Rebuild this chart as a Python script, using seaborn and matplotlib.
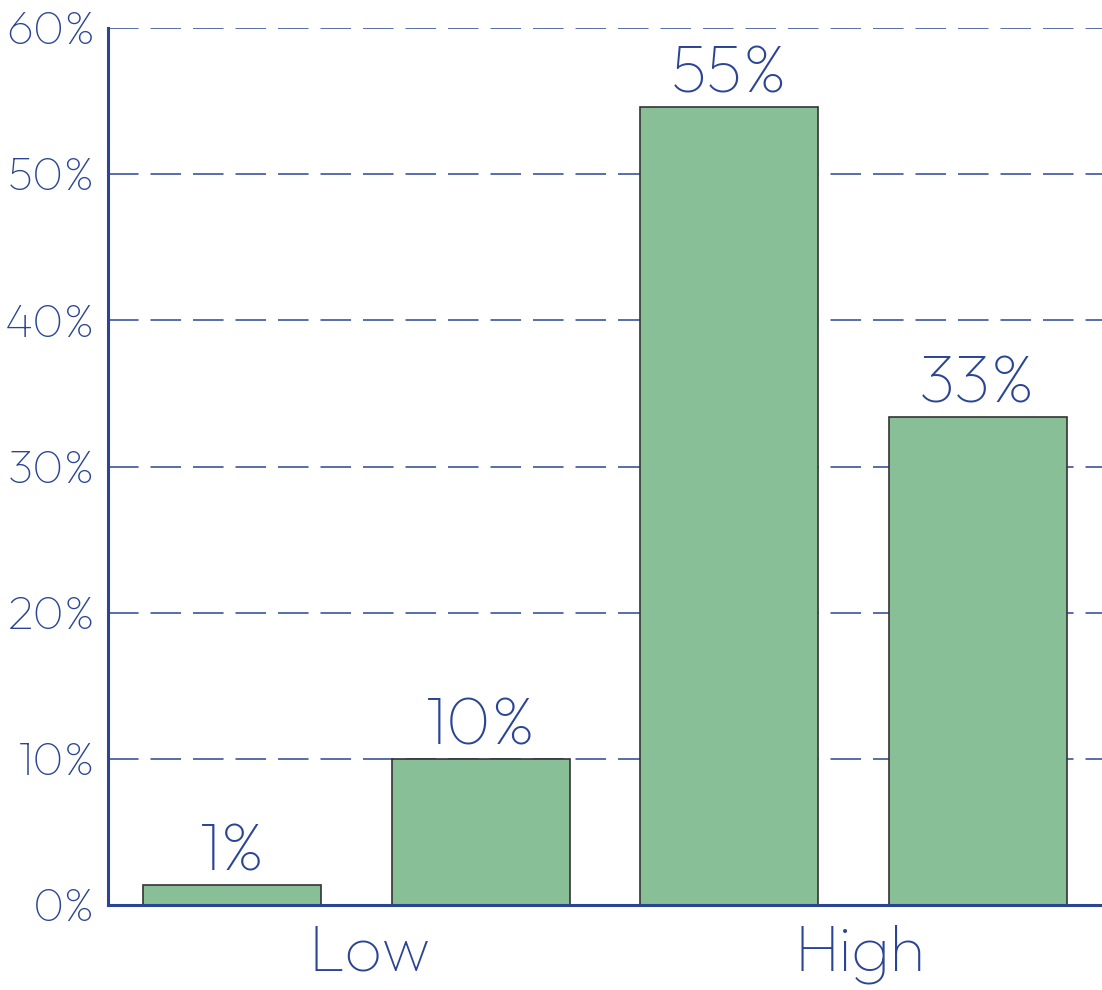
import matplotlib
matplotlib.use("Agg")
import matplotlib.pyplot as plt
import matplotlib.transforms as mtransforms
import seaborn as sns
import pandas as pd

categories = ["Low A", "Low B", "High A", "High B"]
values = [1.37, 10.0, 54.6, 33.4]
bar_labels = ["1%", "10%", "55%", "33%"]
group_labels = ["", "Low", "", "High", ""]
yticks = [0, 10, 20, 30, 40, 50, 60]

sns.set_style("white")
plt.rcParams["lines.scale_dashes"] = False

BLUE = "#2b4595"
GREEN = "#88bf96"
FONT = "Outfit"

df = pd.DataFrame({"cat": categories, "val": values})

fig = plt.figure(figsize=(11.02, 9.9), dpi=100)
ax = fig.add_axes([108 / 1102, 85 / 990, 994 / 1102, 877 / 990])
sns.barplot(data=df, x="cat", y="val", color=GREEN, saturation=1, width=0.715,
            edgecolor="#333333", linewidth=1.2, ax=ax, zorder=3)

ax.set_xlim(-0.5, 3.5)
ax.set_ylim(0, 60)
ax.set_yticks(yticks)
ax.set_yticklabels([f"{v}%" for v in yticks], fontsize=34, color=BLUE, family=FONT)
ax.set_xticks([-0.5, 0.5, 1.5, 2.5, 3.5])
ax.set_xticklabels(group_labels, fontsize=47, color=BLUE, family=FONT)
ax.tick_params(axis="x", direction="in", length=15, width=2.2, color=BLUE, pad=14)
ax.tick_params(axis="y", length=0, pad=9)
ax.set_xlabel("")
ax.set_ylabel("")

shifts = [0, 13, 0, 6, 0]
for lab, dx in zip(ax.get_xticklabels(), shifts):
    lab.set_transform(lab.get_transform() + mtransforms.ScaledTranslation(dx / 100, 0, fig.dpi_scale_trans))

ax.yaxis.grid(True, color=BLUE, linewidth=1.1, linestyle=(0, (22, 8.6)), zorder=0)
ax.xaxis.grid(False)
for s in ["top", "right"]:
    ax.spines[s].set_visible(False)
for s in ["left", "bottom"]:
    ax.spines[s].set_color(BLUE)
    ax.spines[s].set_linewidth(2.2)
    ax.spines[s].set_zorder(5)

for i, (v, lab) in enumerate(zip(values, bar_labels)):
    ax.annotate(lab, (i, v), xytext=(0, 1), textcoords="offset points",
                ha="center", va="bottom", fontsize=49, color=BLUE, family=FONT)

fig.savefig("out.png", dpi=100)
